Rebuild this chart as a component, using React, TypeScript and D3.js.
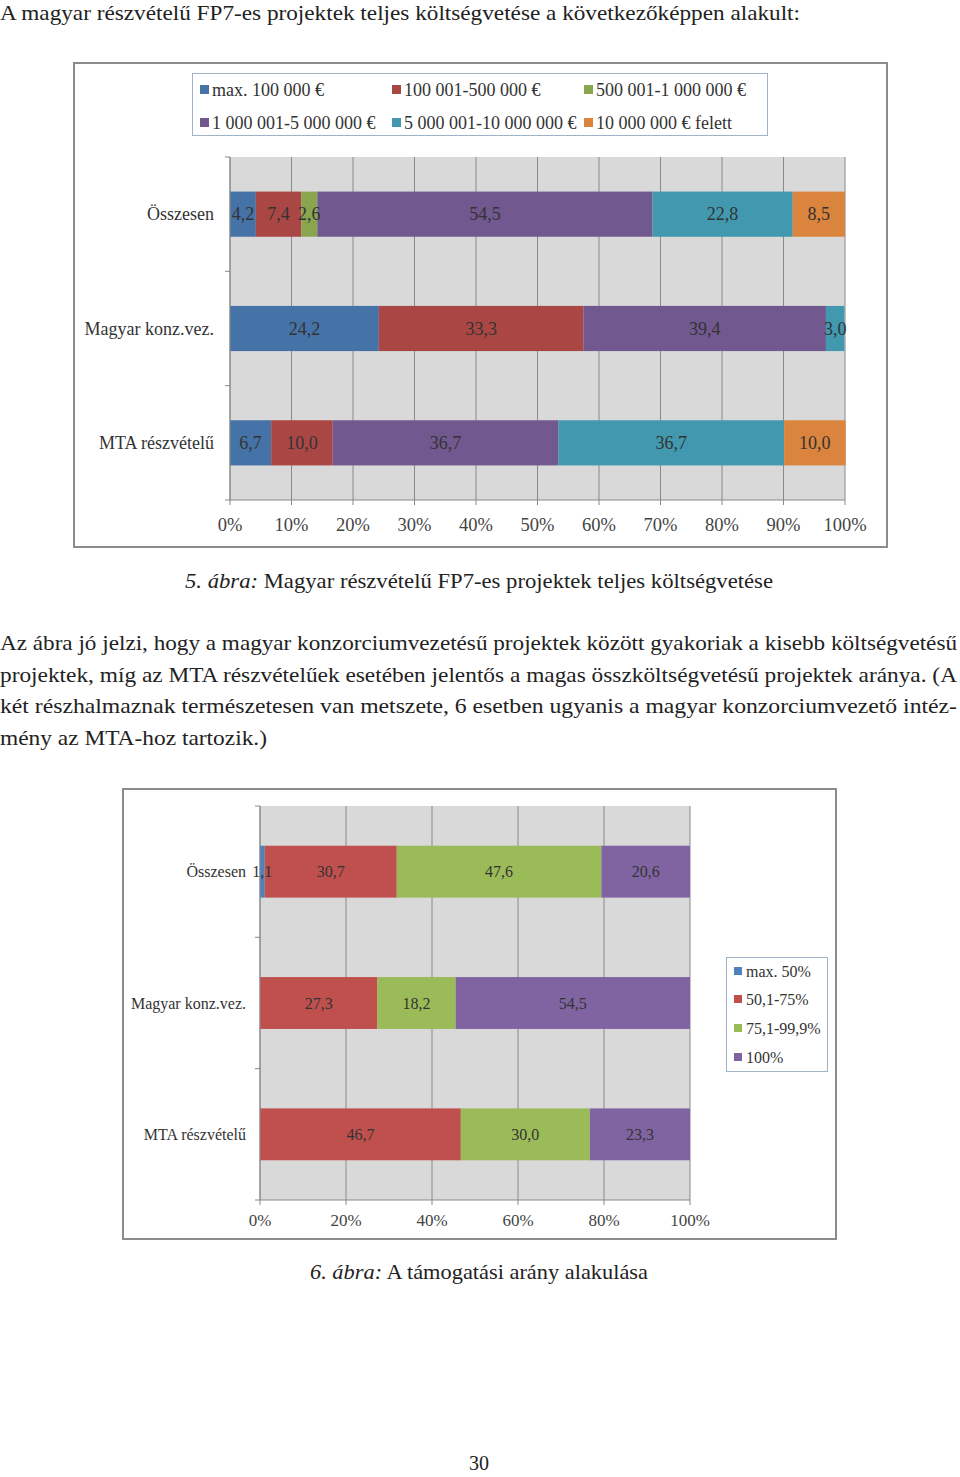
import React from "react";
import * as d3 from "d3";

// ---------- Chart 1 data ----------
const cats1 = ["Összesen", "Magyar konz.vez.", "MTA részvételű"];
const series1 = [
  "max. 100 000 €",
  "100 001-500 000 €",
  "500 001-1 000 000 €",
  "1 000 001-5 000 000 €",
  "5 000 001-10 000 000 €",
  "10 000 000 € felett",
];
const colors1 = ["#4572a7", "#aa4643", "#89a54e", "#71588f", "#4198af", "#db843d"];
const s1_max100k = [4.2, 24.2, 6.7];
const s1_100k500k = [7.4, 33.3, 10.0];
const s1_500k1m = [2.6, 0, 0];
const s1_1m5m = [54.5, 39.4, 36.7];
const s1_5m10m = [22.8, 3.0, 36.7];
const s1_10mPlus = [8.5, 0, 10.0];
const ticks1 = [0, 10, 20, 30, 40, 50, 60, 70, 80, 90, 100];

// ---------- Chart 2 data ----------
const cats2 = ["Összesen", "Magyar konz.vez.", "MTA részvételű"];
const series2 = ["max. 50%", "50,1-75%", "75,1-99,9%", "100%"];
const colors2 = ["#4f81bd", "#c0504d", "#9bbb59", "#8064a2"];
const s2_max50 = [1.1, 0, 0];
const s2_50_75 = [30.7, 27.3, 46.7];
const s2_75_99 = [47.6, 18.2, 30.0];
const s2_100 = [20.6, 54.5, 23.3];
const ticks2 = [0, 20, 40, 60, 80, 100];

// ---------- Page text ----------
const introLine = "A magyar részvételű FP7-es projektek teljes költségvetése a következőképpen alakult:";
const caption5Num = "5. ábra:";
const caption5Text = " Magyar részvételű FP7-es projektek teljes költségvetése";
const paragraph = [
  "Az ábra jó jelzi, hogy a magyar konzorciumvezetésű projektek között gyakoriak a kisebb költségvetésű",
  "projektek, míg az MTA részvételűek esetében jelentős a magas összköltségvetésű projektek aránya. (A",
  "két részhalmaznak természetesen van metszete, 6 esetben ugyanis a magyar konzorciumvezető intéz-",
  "mény az MTA-hoz tartozik.)",
];
const paragraphWidths = [957, 957, 957, 267];
const caption6Num = "6. ábra:";
const caption6Text = " A támogatási arány alakulása";
const pageNumber = "30";

const fmt = (v: number) => v.toFixed(1).replace(".", ",");
const serif = "'Liberation Serif', 'DejaVu Serif', serif";

function StackedChart(props: {
  cats: string[];
  series: string[];
  colors: string[];
  values: number[][];
  ticks: number[];
  xRange: [number, number];
  yRange: [number, number];
  labelSize: number;
  valueSize: number;
  tickSize: number;
  labelGap: number;
  tickOffset: number;
}) {
  const { cats, series, colors, values, ticks, xRange, yRange, labelSize, valueSize, tickSize, labelGap, tickOffset } = props;
  const table = cats.map((c, i) => {
    const row: any = { cat: c };
    series.forEach((s, j) => (row[s] = values[j][i]));
    return row;
  });
  const stacked = d3.stack<any>().keys(series)(table);
  const x = d3.scaleLinear().domain([0, 100]).range(xRange);
  const y = d3.scaleBand().domain(cats).range(yRange).paddingInner(0.605).paddingOuter(0.3025);
  const bounds = d3.range(cats.length + 1).map((i) => yRange[0] + i * y.step());
  return (
    <g>
      <rect x={xRange[0]} y={yRange[0]} width={xRange[1] - xRange[0]} height={yRange[1] - yRange[0]} fill="#d9d9d9" />
      {ticks.map((t) => (
        <line key={t} x1={x(t)} x2={x(t)} y1={yRange[0]} y2={yRange[1]} stroke="#8a8a8a" strokeWidth={1} />
      ))}
      {stacked.map((layer, j) =>
        layer.map((d, i) => {
          const w = x(d[1]) - x(d[0]);
          if (w <= 0) return null;
          return (
            <rect
              key={j + "-" + i}
              x={x(d[0])}
              y={y(cats[i])!}
              width={w}
              height={y.bandwidth()}
              fill={colors[j]}
            />
          );
        })
      )}
      {stacked.map((layer, j) =>
        layer.map((d, i) => {
          const v = values[j][i];
          if (!v) return null;
          return (
            <text
              key={"t" + j + "-" + i}
              x={(x(d[0]) + x(d[1])) / 2}
              y={y(cats[i])! + y.bandwidth() / 2}
              dy="0.35em"
              textAnchor="middle"
              fontSize={valueSize}
              fill="#333"
              fontFamily={serif}
            >
              {fmt(v)}
            </text>
          );
        })
      )}
      <line x1={xRange[0]} x2={xRange[0]} y1={yRange[0]} y2={yRange[1]} stroke="#888" />
      <line x1={xRange[0]} x2={xRange[1]} y1={yRange[1]} y2={yRange[1]} stroke="#888" />
      {bounds.map((b, i) => (
        <line key={"b" + i} x1={xRange[0] - 5} x2={xRange[0]} y1={b} y2={b} stroke="#888" />
      ))}
      {ticks.map((t) => (
        <line key={"tk" + t} x1={x(t)} x2={x(t)} y1={yRange[1]} y2={yRange[1] + 5} stroke="#888" />
      ))}
      {cats.map((c) => (
        <text
          key={"c" + c}
          x={xRange[0] - labelGap}
          y={y(c)! + y.bandwidth() / 2}
          dy="0.35em"
          textAnchor="end"
          fontSize={labelSize}
          fill="#333"
          fontFamily={serif}
        >
          {c}
        </text>
      ))}
      {ticks.map((t) => (
        <text
          key={"xl" + t}
          x={x(t)}
          y={yRange[1] + tickOffset}
          dy="0.35em"
          textAnchor="middle"
          fontSize={tickSize}
          fill="#444"
          fontFamily={serif}
        >
          {t + "%"}
        </text>
      ))}
    </g>
  );
}

export default function App() {
  const values1 = [s1_max100k, s1_100k500k, s1_500k1m, s1_1m5m, s1_5m10m, s1_10mPlus];
  const values2 = [s2_max50, s2_50_75, s2_75_99, s2_100];
  const legend1Cols = [200, 392, 584];
  const legend1Rows = [90, 123];
  const legend2Rows = [971, 999, 1028, 1057];
  return (
    <svg
      width={960}
      height={1477}
      style={{ position: "absolute", left: 0, top: 0, background: "#fff" }}
      fontFamily={serif}
    >
      <rect width={960} height={1477} fill="#fff" />
      <text x={0} y={20} fontSize={22} fill="#222" textLength={800} lengthAdjust="spacingAndGlyphs">
        {introLine}
      </text>

      {/* Chart 1 */}
      <rect x={74} y={63} width={813} height={484} fill="#fff" stroke="#8c8c8c" strokeWidth={2} />
      <rect x={192.5} y={73.5} width={575} height={62} fill="#fff" stroke="#9fb3c8" strokeWidth={1} />
      {series1.map((s, i) => {
        const cx = legend1Cols[i % 3];
        const cy = legend1Rows[Math.floor(i / 3)];
        return (
          <g key={s}>
            <rect x={cx} y={cy - 5} width={9} height={9} fill={colors1[i]} />
            <text x={cx + 12} y={cy} dy="0.35em" fontSize={18} fill="#333">
              {s}
            </text>
          </g>
        );
      })}
      <StackedChart
        cats={cats1}
        series={series1}
        colors={colors1}
        values={values1}
        ticks={ticks1}
        xRange={[230, 845]}
        yRange={[157, 500]}
        labelSize={18}
        valueSize={18}
        tickSize={18.5}
        labelGap={16}
        tickOffset={25}
      />

      <text x={479} y={588} textAnchor="middle" fontSize={22} fill="#222" textLength={588} lengthAdjust="spacingAndGlyphs">
        <tspan fontStyle="italic">{caption5Num}</tspan>
        <tspan>{caption5Text}</tspan>
      </text>

      {paragraph.map((line, i) => (
        <text
          key={i}
          x={0}
          y={650 + i * 31.7}
          fontSize={22}
          fill="#222"
          textLength={paragraphWidths[i]}
          lengthAdjust="spacingAndGlyphs"
        >
          {line}
        </text>
      ))}

      {/* Chart 2 */}
      <rect x={123} y={789} width={713} height={450} fill="#fff" stroke="#8c8c8c" strokeWidth={2} />
      <StackedChart
        cats={cats2}
        series={series2}
        colors={colors2}
        values={values2}
        ticks={ticks2}
        xRange={[260, 690]}
        yRange={[806, 1200]}
        labelSize={16}
        valueSize={16}
        tickSize={17}
        labelGap={14}
        tickOffset={20}
      />
      <rect x={726.5} y={957.5} width={101} height={114} fill="#fff" stroke="#9fb3c8" strokeWidth={1} />
      {series2.map((s, i) => (
        <g key={s}>
          <rect x={734} y={legend2Rows[i] - 4} width={8} height={8} fill={colors2[i]} />
          <text x={746} y={legend2Rows[i]} dy="0.35em" fontSize={16} fill="#333">
            {s}
          </text>
        </g>
      ))}

      <text x={479} y={1279} textAnchor="middle" fontSize={22} fill="#222" textLength={338} lengthAdjust="spacingAndGlyphs">
        <tspan fontStyle="italic">{caption6Num}</tspan>
        <tspan>{caption6Text}</tspan>
      </text>

      <text x={479} y={1470} textAnchor="middle" fontSize={20} fill="#222">
        {pageNumber}
      </text>
    </svg>
  );
}
